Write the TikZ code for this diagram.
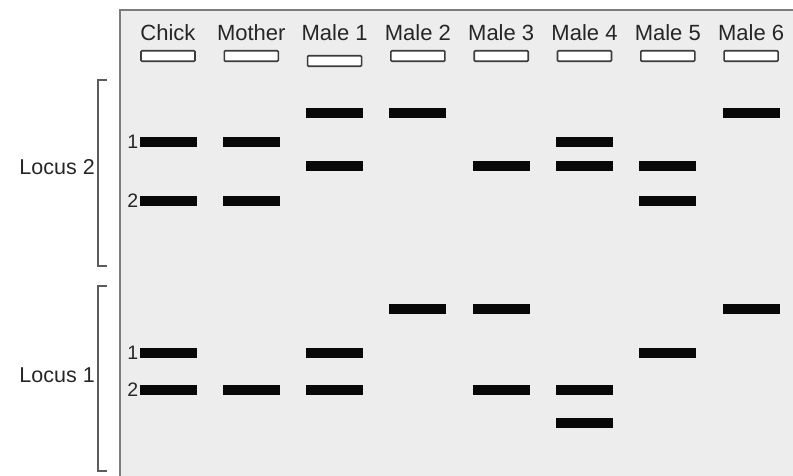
\documentclass[tikz,border=0pt]{standalone}
\usepackage{fontspec}
\setmainfont{Liberation Sans}
\usepackage{xcolor}
\definecolor{cGel}{HTML}{EDEDED}
\definecolor{cFrame}{HTML}{7C7C7C}
\definecolor{cText}{HTML}{262626}
\definecolor{cBand}{HTML}{080808}
\usepackage{tikz}
\usetikzlibrary{positioning}
\tikzset{
  gel-frame/.style={draw=cFrame,line width=2.8pt,fill=cGel},
  node-well/.style={draw=cText!90,line width=1.6pt,fill=white,rounded corners=1pt,
    minimum width=54pt,minimum height=10.5pt,inner sep=0pt},
  node-band/.style={fill=cBand,minimum width=57pt,minimum height=10.5pt,inner sep=0pt},
  lane-label/.style={font=\fontsize{22}{22}\selectfont,text=cText,inner sep=0pt},
  locus-label/.style={font=\fontsize{21.5}{21.5}\selectfont,text=cText,inner sep=0pt,anchor=east},
  allele-num/.style={font=\fontsize{19.5}{19.5}\selectfont,text=cText,inner sep=0pt},
  bracket/.style={draw=cText!75,line width=1.4pt},
}

\begin{document}
\begin{tikzpicture}[x=1pt,y=-1pt]
  \useasboundingbox (0,0) rectangle (793,476);
  \draw[gel-frame] (120,10) rectangle (820,500);
  % lanes: label + well
  \foreach \i/\name/\wy in {0/Chick/56, 1/Mother/56, 2/Male 1/61, 3/Male 2/56,
                            4/Male 3/56, 5/Male 4/56, 6/Male 5/56, 7/Male 6/56} {
    \pgfmathsetmacro\x{168+83.3*\i}
    \node[lane-label] (lbl-\i) at (\x,33) {\name};
    \node[node-well] (well-\i) at (\x,\wy) {};
  }
  % bands (lane/y)
  \foreach \i/\y in {0/142, 0/201, 0/353, 0/390,
                     1/142, 1/201, 1/390,
                     2/113, 2/166, 2/353, 2/390,
                     3/113, 3/309,
                     4/166, 4/309, 4/390,
                     5/142, 5/166, 5/390, 5/423,
                     6/166, 6/201, 6/353,
                     7/113, 7/309} {
    \node[node-band] (band-\i-\y) at ({168+83.3*\i},\y) {};
  }
  \node[allele-num,left=1pt of band-0-142] (l2-a1) {1};
  \node[allele-num,left=1pt of band-0-201] (l2-a2) {2};
  \node[allele-num,left=1pt of band-0-353] (l1-a1) {1};
  \node[allele-num,left=1pt of band-0-390] (l1-a2) {2};
  \node[locus-label] (locus2) at (95,167) {Locus 2};
  \node[locus-label] (locus1) at (95,375) {Locus 1};
  \draw[bracket] (107,80) -| (98,266) -- (107,266);
  \draw[bracket] (107,286) -| (98,471) -- (107,471);
\end{tikzpicture}
\end{document}
